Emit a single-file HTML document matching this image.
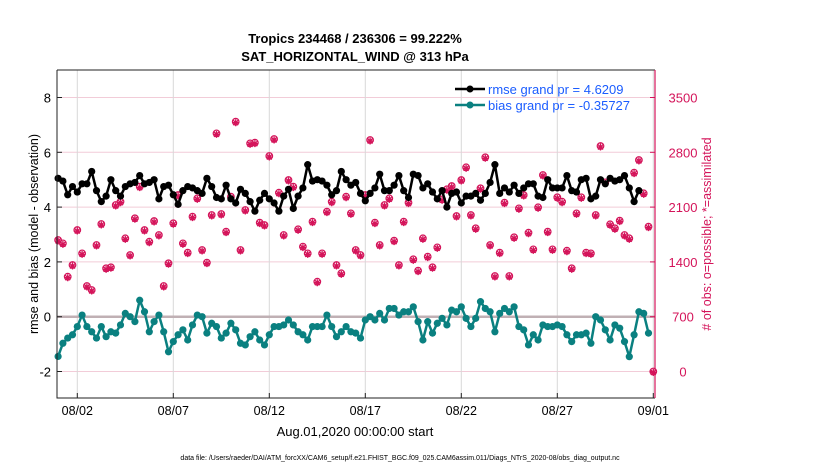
<!DOCTYPE html>
<html><head><meta charset="utf-8"><style>
body{margin:0;background:#fff;width:830px;height:470px;overflow:hidden;font-family:"Liberation Sans",Arial,sans-serif}
svg{display:block}
</style></head><body>
<svg id="chart" width="830" height="470" xmlns="http://www.w3.org/2000/svg" font-family="Liberation Sans, Arial, sans-serif">
<text x="355" y="43" text-anchor="middle" font-size="13" font-weight="bold">Tropics 234468 / 236306 = 99.222%</text>
<text x="355" y="61" text-anchor="middle" font-size="13" font-weight="bold">SAT_HORIZONTAL_WIND @ 313 hPa</text>
<g id="grid"></g>
<g id="marks"></g>
<g id="axes"></g>
<text transform="translate(38,234) rotate(-90)" text-anchor="middle" font-size="12.5">rmse and bias (model - observation)</text>
<text transform="translate(711,234) rotate(-90)" text-anchor="middle" font-size="12.5" fill="#d4145a"># of obs: o=possible; *=assimilated</text>
<text x="355" y="436" text-anchor="middle" font-size="13">Aug.01,2020 00:00:00 start</text>
<text x="400" y="460" text-anchor="middle" font-size="7">data file: /Users/raeder/DAI/ATM_forcXX/CAM6_setup/f.e21.FHIST_BGC.f09_025.CAM6assim.011/Diags_NTrS_2020-08/obs_diag_output.nc</text>
<g>
<line x1="455" y1="89" x2="485" y2="89" stroke="#000" stroke-width="2.5"/>
<circle cx="470" cy="89" r="3.5" fill="#000"/>
<text x="488" y="94" font-size="13" fill="#1a5cff">rmse grand pr = 4.6209</text>
<line x1="455" y1="105" x2="485" y2="105" stroke="#0a8080" stroke-width="2.5"/>
<circle cx="470" cy="105" r="3.5" fill="#0a8080"/>
<text x="488" y="110" font-size="13" fill="#1a5cff">bias grand pr = -0.35727</text>
</g>
</svg>
<script>
const rmse=[5.05,4.95,4.45,4.75,4.55,4.85,4.85,5.3,4.6,4.2,4.4,5.0,4.6,4.4,4.75,4.85,4.9,5.15,4.85,4.9,5.0,4.3,4.75,4.8,4.45,4.1,4.6,4.75,4.7,4.6,4.5,5.05,4.75,4.35,4.3,4.8,4.3,4.15,4.65,4.5,4.2,3.85,4.25,4.5,4.3,4.15,3.85,4.4,4.65,3.95,4.4,4.7,5.55,4.95,5.0,4.95,4.8,4.45,4.6,
5.3,5.0,4.8,4.9,4.5,4.23,4.5,4.7,5.2,4.6,4.6,4.8,5.15,4.6,4.35,5.2,5.15,4.7,4.85,4.55,4.3,4.6,4.0,4.5,4.55,4.15,4.4,4.4,4.5,4.25,4.5,4.9,5.55,4.5,4.7,4.55,4.8,4.5,4.7,4.85,4.85,4.4,4.35,5.0,4.7,4.7,4.7,5.15,4.6,4.55,5.0,5.05,4.3,4.4,5.0,4.85,5.05,4.95,5.0,5.15,4.7,4.2,4.6];
const bias=[-1.45,-0.97,-0.78,-0.66,-0.36,0.06,-0.36,-0.55,-0.78,-0.36,-0.73,-0.55,-0.6,-0.3,0.12,0,-0.18,0.6,0.18,-0.55,-0.18,0.06,-0.55,-1.28,-0.91,-0.66,-0.48,-0.85,-0.3,0.06,0,-0.6,-0.24,-0.36,-0.78,-0.6,-0.24,-0.48,-0.97,-1.03,-0.73,-0.55,-0.85,-1.03,-0.66,-0.36,-0.36,-0.3,-0.12,-0.3,-0.55,-0.66,-0.85,-0.36,-0.36,-0.36,0.06,-0.36,-0.73,
-0.55,-0.36,-0.55,-0.6,-0.78,-0.12,0,-0.12,0.12,-0.12,0.3,0.3,0.06,0.18,0.18,0.36,-0.18,-0.85,-0.18,-0.6,-0.24,-0.06,-0.3,0.24,0.18,0.36,-0.06,-0.36,-0.06,0.55,0.3,0.18,-0.55,0.12,0.3,0.18,0.36,-0.36,-0.48,-1.03,-0.66,-0.85,-0.3,-0.36,-0.36,-0.3,-0.36,-0.66,-0.91,-0.66,-0.66,-0.6,-0.97,0,-0.12,-0.48,-0.85,-0.3,-0.42,-0.91,-1.46,-0.66,0.18,0.12,-0.6];
const nobs=[1680,1637,1211,1360,1807,1509,1092,1041,1616,1884,1318,1331,2127,2169,1701,1488,1957,2361,1807,1658,1922,1744,1092,1382,1893,2254,1637,1518,1978,2212,1552,1390,1999,3042,2012,1786,2233,3191,1552,2063,2914,2923,1901,1871,2753,2970,2284,1744,2446,2361,1816,1595,1509,1914,1147,1509,2042,2169,1360,
1254,2233,2020,1552,1488,2254,2957,1901,1616,2127,2212,1671,1360,1914,2157,1433,1288,1701,1467,1331,1586,2199,2327,2369,1986,2446,2608,1999,1829,2340,2736,1616,1220,1518,2157,1220,1714,2084,2254,1773,1560,2097,2510,1786,1560,2225,2169,1543,1318,2020,2225,1518,1509,1999,2880,2416,1880,1829,1927,1744,1701,2540,2702,2276,1850,0];
const xTickLabels=["08/02","08/07","08/12","08/17","08/22","08/27","09/01"];
const xTickDays=[1,6,11,16,21,26,31];
const yTicksLeft=[-2,0,2,4,6,8];
const yTicksRight=[0,700,1400,2100,2800,3500];

const L=57,R=655,T=70,B=398;
const dayStep=0.25;
const xs=d=>58.1+19.2*d;
const yl=v=>316.7-27.4*v;
const yr=n=>yl((n-700)/350);
const NS="http://www.w3.org/2000/svg";
function mk(tag,attrs,parent){const e=document.createElementNS(NS,tag);for(const k in attrs)e.setAttribute(k,attrs[k]);parent.appendChild(e);return e;}
const grid=document.getElementById('grid'),marks=document.getElementById('marks'),axes=document.getElementById('axes');
mk('rect',{x:L,y:T,width:R-L,height:B-T,fill:'#fff'},grid);
yTicksLeft.forEach(v=>{const g=mk('line',{x1:L,x2:R,y1:yl(v),y2:yl(v),stroke:'#f2ccd8','stroke-width':1},grid);

});
xTickDays.forEach(d=>{const g=mk('line',{x1:xs(d),x2:xs(d),y1:T,y2:B,stroke:'#d8d8d8','stroke-width':1},grid);

});
const zl=mk('line',{x1:L,x2:R,y1:yl(0),y2:yl(0),stroke:'#c0b0b4','stroke-width':2.5},grid);


nobs.forEach((n,i)=>{const cx=xs(i*dayStep),cy=yr(n);
const g=mk('g',{},marks);


mk('circle',{cx:cx,cy:cy,r:3.3,fill:'none',stroke:'#d4145a','stroke-width':1.2},g);
mk('path',{d:`M${cx-3.5} ${cy+1}h7M${cx} ${cy-2.5}v7M${cx-2.5} ${cy-1.5}l5 5M${cx+2.5} ${cy-1.5}l-5 5`,stroke:'#d4145a','stroke-width':1.3},g);});
function series(arr,color,name){
const p=mk('polyline',{points:arr.map((v,i)=>xs(i*dayStep)+','+yl(v)).join(' '),fill:'none',stroke:color,'stroke-width':2.5,'stroke-linejoin':'round'},marks);


arr.forEach((v,i)=>{const c=mk('circle',{cx:xs(i*dayStep),cy:yl(v),r:3.6,fill:color},marks);

});}
series(rmse,'#000','rmse');
series(bias,'#0a8080','bias');
const fr=mk('path',{d:`M${L} ${T}V${B}H${R}M${L} ${T}H${R}`,fill:'none',stroke:'#222','stroke-width':1},axes);


const ra=mk('line',{x1:R,x2:R,y1:T,y2:B,stroke:'#d4145a','stroke-width':1.2},axes);


yTicksLeft.forEach(v=>{mk('line',{x1:L,x2:L+5,y1:yl(v),y2:yl(v),stroke:'#222'},axes);
const t=mk('text',{x:L-6,y:yl(v)+5,'text-anchor':'end','font-size':13},axes);t.textContent=v;

});
yTicksRight.forEach(v=>{mk('line',{x1:R-5,x2:R,y1:yr(v),y2:yr(v),stroke:'#d4145a'},axes);
const t=mk('text',{x:R+28,y:yr(v)+5,'text-anchor':'middle','font-size':13,fill:'#d4145a'},axes);t.textContent=v;

});
xTickDays.forEach((d,i)=>{mk('line',{x1:xs(d),x2:xs(d),y1:B-5,y2:B,stroke:'#222'},axes);
const t=mk('text',{x:xs(d),y:B+17,'text-anchor':'middle','font-size':12.5},axes);t.textContent=xTickLabels[i];

});
</script>
</body></html>
